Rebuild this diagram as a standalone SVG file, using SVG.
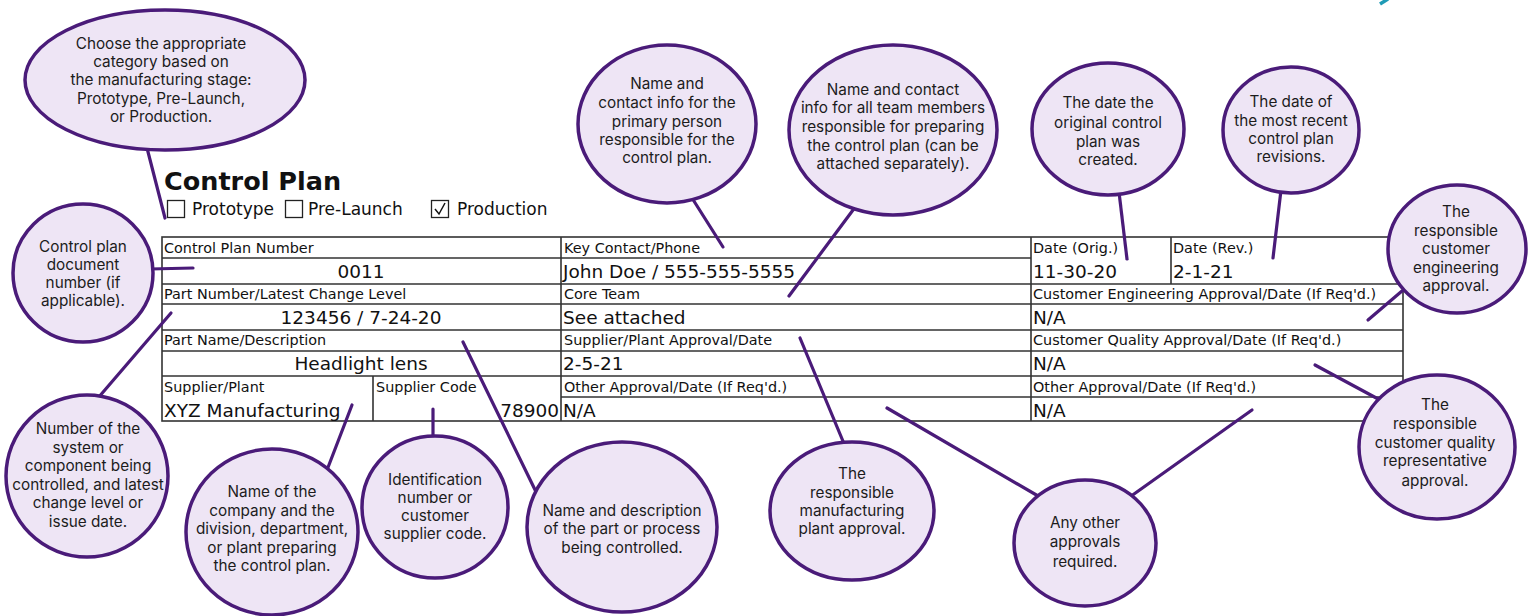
<svg xmlns="http://www.w3.org/2000/svg" width="1530" height="616" viewBox="0 0 1530 616">
<style>
.bub{fill:#eee5f5;stroke:#4a1b79;stroke-width:3.5}
.bt{font-family:Inter,"Noto Sans",sans-serif;font-size:15.3px;fill:#1c1c1c;text-anchor:middle}
.con{stroke:#4a1b79;stroke-width:3.2;fill:none;stroke-linecap:round}
.tl{stroke:#333;stroke-width:1.6;fill:none}
.lab{font-family:"DejaVu Sans",sans-serif;font-size:14.4px;fill:#111}
.val{font-family:"DejaVu Sans",sans-serif;font-size:18.5px;fill:#111}
.cb{font-family:"DejaVu Sans",sans-serif;font-size:17px;fill:#111}
.box{fill:#fff;stroke:#222;stroke-width:1.3}
</style>
<rect width="1530" height="616" fill="#fff"/>
<path d="M1380,4 L1388,-1" stroke="#1f9bb6" stroke-width="3.5" fill="none"/>

<g id="title">
<text x="164" y="190" font-family="DejaVu Sans,sans-serif" font-weight="bold" font-size="25.5" fill="#111">Control Plan</text>
<rect class="box" x="167.5" y="200.5" width="17" height="17"/>
<text class="cb" x="192" y="215">Prototype</text>
<rect class="box" x="285.5" y="200.5" width="17" height="17"/>
<text class="cb" x="308" y="215">Pre-Launch</text>
<rect class="box" x="431.5" y="200.5" width="17" height="17"/>
<path d="M435,209 L439,214 L445,203" stroke="#111" stroke-width="1.5" fill="none"/>
<text class="cb" x="457" y="215">Production</text>
</g>

<g id="table">
<rect class="tl" x="162" y="237" width="1241" height="184"/>
<path class="tl" d="M162,258H1031 M162,284H1403 M162,304H1403 M162,330H1403 M162,351H1403 M162,376H1403 M561,397H1403 M561,237V421 M1031,237V421 M1171,237V284 M373,376V421"/>
<text class="lab" x="164" y="253">Control Plan Number</text>
<text class="val" x="361" y="278" text-anchor="middle">0011</text>
<text class="lab" x="164" y="299">Part Number/Latest Change Level</text>
<text class="val" x="361" y="324" text-anchor="middle">123456 / 7-24-20</text>
<text class="lab" x="164" y="345">Part Name/Description</text>
<text class="val" x="361" y="370" text-anchor="middle">Headlight lens</text>
<text class="lab" x="164" y="392">Supplier/Plant</text>
<text class="val" x="164" y="417">XYZ Manufacturing</text>
<text class="lab" x="376" y="392">Supplier Code</text>
<text class="val" x="559" y="417" text-anchor="end">78900</text>
<text class="lab" x="564" y="253">Key Contact/Phone</text>
<text class="val" x="563" y="278">John Doe / 555-555-5555</text>
<text class="lab" x="564" y="299">Core Team</text>
<text class="val" x="563" y="324">See attached</text>
<text class="lab" x="564" y="345">Supplier/Plant Approval/Date</text>
<text class="val" x="563" y="370">2-5-21</text>
<text class="lab" x="564" y="392">Other Approval/Date (If Req'd.)</text>
<text class="val" x="563" y="417">N/A</text>
<text class="lab" x="1033" y="253">Date (Orig.)</text>
<text class="val" x="1033" y="278">11-30-20</text>
<text class="lab" x="1173" y="253">Date (Rev.)</text>
<text class="val" x="1173" y="278">2-1-21</text>
<text class="lab" x="1033" y="299">Customer Engineering Approval/Date (If Req'd.)</text>
<text class="val" x="1033" y="324">N/A</text>
<text class="lab" x="1033" y="345">Customer Quality Approval/Date (If Req'd.)</text>
<text class="val" x="1033" y="370">N/A</text>
<text class="lab" x="1033" y="392">Other Approval/Date (If Req'd.)</text>
<text class="val" x="1033" y="417">N/A</text>
</g>

<g id="connectors">
<path class="con" d="M147,148 L165,218"/>
<path class="con" d="M150,269 L193,268"/>
<path class="con" d="M98,398 L171,313"/>
<path class="con" d="M327,470 L352,405"/>
<path class="con" d="M433,440 L433,409"/>
<path class="con" d="M463,342 L540,500"/>
<path class="con" d="M800,338 L845,446"/>
<path class="con" d="M887,408 L1045,500"/>
<path class="con" d="M1252,410 L1127,499"/>
<path class="con" d="M1315,365 L1380,400"/>
<path class="con" d="M1368,320 L1402,291"/>
<path class="con" d="M1281,190 L1273,258"/>
<path class="con" d="M1119,192 L1127,259"/>
<path class="con" d="M856,206 L789,296"/>
<path class="con" d="M692,198 L723,247"/>
</g>

<g id="n-category">
<ellipse class="bub" cx="165" cy="80" rx="140" ry="70"/>
<text class="bt" x="161" y="49">Choose the appropriate</text>
<text class="bt" x="161" y="67">category based on</text>
<text class="bt" x="161" y="85">the manufacturing stage:</text>
<text class="bt" x="161" y="104">Prototype, Pre-Launch,</text>
<text class="bt" x="161" y="122">or Production.</text>
</g>
<g id="n-cpnum">
<ellipse class="bub" cx="83" cy="273" rx="70" ry="69"/>
<text class="bt" x="83" y="252">Control plan</text>
<text class="bt" x="83" y="270">document</text>
<text class="bt" x="83" y="288">number (if</text>
<text class="bt" x="83" y="306">applicable).</text>
</g>
<g id="n-partnum">
<ellipse class="bub" cx="87" cy="476" rx="81" ry="81"/>
<text class="bt" x="88" y="434">Number of the</text>
<text class="bt" x="88" y="453">system or</text>
<text class="bt" x="88" y="471">component being</text>
<text class="bt" x="88" y="490">controlled, and latest</text>
<text class="bt" x="88" y="508">change level or</text>
<text class="bt" x="88" y="527">issue date.</text>
</g>
<g id="n-supplier">
<ellipse class="bub" cx="272" cy="532" rx="86" ry="83"/>
<text class="bt" x="272" y="497">Name of the</text>
<text class="bt" x="272" y="516">company and the</text>
<text class="bt" x="272" y="534">division, department,</text>
<text class="bt" x="272" y="553">or plant preparing</text>
<text class="bt" x="272" y="571">the control plan.</text>
</g>
<g id="n-code">
<ellipse class="bub" cx="435" cy="507" rx="73" ry="71"/>
<text class="bt" x="435" y="485">Identification</text>
<text class="bt" x="435" y="503">number or</text>
<text class="bt" x="435" y="521">customer</text>
<text class="bt" x="435" y="539">supplier code.</text>
</g>
<g id="n-partname">
<ellipse class="bub" cx="622" cy="527" rx="95" ry="85"/>
<text class="bt" x="622" y="516">Name and description</text>
<text class="bt" x="622" y="534">of the part or process</text>
<text class="bt" x="622" y="553">being controlled.</text>
</g>
<g id="n-plant">
<ellipse class="bub" cx="852" cy="511" rx="82" ry="69"/>
<text class="bt" x="852" y="479">The</text>
<text class="bt" x="852" y="498">responsible</text>
<text class="bt" x="852" y="516">manufacturing</text>
<text class="bt" x="852" y="534">plant approval.</text>
</g>
<g id="n-other">
<ellipse class="bub" cx="1085" cy="543" rx="71" ry="63"/>
<text class="bt" x="1085" y="528">Any other</text>
<text class="bt" x="1085" y="547">approvals</text>
<text class="bt" x="1085" y="567">required.</text>
</g>
<g id="n-quality">
<ellipse class="bub" cx="1437" cy="447" rx="78" ry="72"/>
<text class="bt" x="1435" y="410">The</text>
<text class="bt" x="1435" y="429">responsible</text>
<text class="bt" x="1435" y="448">customer quality</text>
<text class="bt" x="1435" y="466">representative</text>
<text class="bt" x="1435" y="486">approval.</text>
</g>
<g id="n-engineering">
<ellipse class="bub" cx="1457" cy="249" rx="69" ry="64"/>
<text class="bt" x="1456" y="217">The</text>
<text class="bt" x="1456" y="236">responsible</text>
<text class="bt" x="1456" y="254">customer</text>
<text class="bt" x="1456" y="273">engineering</text>
<text class="bt" x="1456" y="291">approval.</text>
</g>
<g id="n-daterev">
<ellipse class="bub" cx="1291" cy="130" rx="68" ry="63"/>
<text class="bt" x="1291" y="107">The date of</text>
<text class="bt" x="1291" y="126">the most recent</text>
<text class="bt" x="1291" y="144">control plan</text>
<text class="bt" x="1291" y="162">revisions.</text>
</g>
<g id="n-dateorig">
<ellipse class="bub" cx="1108" cy="129" rx="76" ry="66"/>
<text class="bt" x="1108" y="108">The date the</text>
<text class="bt" x="1108" y="128">original control</text>
<text class="bt" x="1108" y="147">plan was</text>
<text class="bt" x="1108" y="165">created.</text>
</g>
<g id="n-team">
<ellipse class="bub" cx="893" cy="130" rx="104" ry="85"/>
<text class="bt" x="893" y="95">Name and contact</text>
<text class="bt" x="893" y="113">info for all team members</text>
<text class="bt" x="893" y="132">responsible for preparing</text>
<text class="bt" x="893" y="151">the control plan (can be</text>
<text class="bt" x="893" y="169">attached separately).</text>
</g>
<g id="n-contact">
<ellipse class="bub" cx="667" cy="124" rx="89" ry="79"/>
<text class="bt" x="667" y="89">Name and</text>
<text class="bt" x="667" y="108">contact info for the</text>
<text class="bt" x="667" y="127">primary person</text>
<text class="bt" x="667" y="145">responsible for the</text>
<text class="bt" x="667" y="163">control plan.</text>
</g>
</svg>
